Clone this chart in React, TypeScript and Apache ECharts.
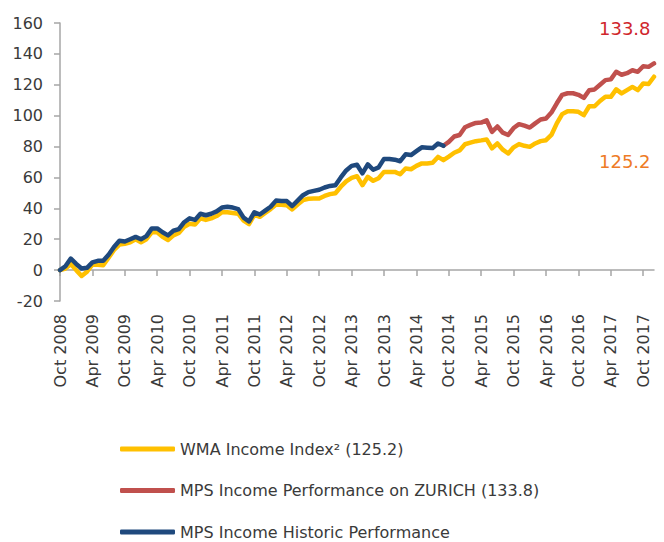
import React, { useEffect, useRef } from "react";
import * as echarts from "echarts";

const MONTHS = ["Jan", "Feb", "Mar", "Apr", "May", "Jun", "Jul", "Aug", "Sep", "Oct", "Nov", "Dec"];
// Monthly categories Oct 2008 .. Dec 2017
const categories: string[] = [];
for (let k = 0; k < 111; k++) {
  const m = (9 + k) % 12;
  const y = 2008 + Math.floor((9 + k) / 12);
  categories.push(`${MONTHS[m]} ${y}`);
}

const seriesNames = [
  "WMA Income Index² (125.2)",
  "MPS Income Performance on ZURICH (133.8)",
  "MPS Income Historic Performance",
];

const wmaIncome = [
  0, 1, 4, 0, -3.8, -1, 3.5, 3.5, 3.2, 8,
  13, 16.5, 17, 18, 20, 18, 20, 24.5, 24.5, 21.5,
  19.5, 22.5, 24, 28, 30, 29.5, 33.5, 32.5, 33.5, 35,
  37.5, 37.5, 37, 36.5, 32, 29.8, 35.8, 34.5, 37, 39.5,
  42.5, 42.3, 42, 39.3, 42.5, 45.3, 46.2, 46.4, 46.4, 48,
  49.2, 49.8, 54, 57.5, 59.7, 60.8, 55, 60.4, 57.8, 59.5,
  63.6, 63.6, 63.6, 62.1, 65.8, 65.3, 67.5, 69.1, 69.1, 69.5,
  73.3, 71.2, 73.5, 76, 77.5, 81.5, 82.5, 83.5, 84, 84.6,
  78.8, 82, 78, 75.5, 79.5, 81.6, 80.5, 79.8, 82, 83.5,
  84.1, 87.5, 95, 101, 102.9, 102.9, 102.5, 100.3, 106.1, 106.1,
  109.5, 112.2, 112.2, 117, 114.4, 116.5, 118.6, 116.5, 120.8, 120.5,
  125.2,
];

// MPS Income: historic (index 0..71) then on ZURICH (index 71..110)
const mpsIncome = [
  0, 2.5, 7.5, 4, 1, 1.5, 5, 6, 6, 10,
  15, 19, 18.5, 20, 21.5, 20, 22, 27, 27, 24.5,
  22.5, 25.5, 26.5, 31, 33.5, 32.5, 36.5, 35.5, 36.5, 38,
  40.5, 41, 40.5, 39.5, 34, 31.5, 37.5, 36, 38.5, 41,
  45, 44.8, 44.7, 41.5, 45, 48.5, 50.5, 51.3, 52, 53.5,
  54.5, 55, 60, 64.5, 67.5, 68.2, 62.6, 68.5, 65, 66.5,
  72, 72, 71.5, 70.5, 75, 74.5, 77, 79.5, 79.3, 79,
  82, 80.5, 83, 86.5, 87.5, 92.5, 94, 95.3, 95.5, 97,
  89.5, 93, 89, 87.5, 92, 94.5, 93.5, 92.3, 95, 97.5,
  98.2, 102, 108, 113.5, 114.5, 114.5, 113.5, 111.5, 116.5, 117,
  120, 123, 123.5, 128.4, 126.5, 127.5, 129.4, 128.4, 132, 131.6,
  133.8,
];
const zurichStart = 71;

const yTicks = { min: -20, max: 160, interval: 20 };
const endLabels = ["133.8", "125.2"];

const historic = mpsIncome.map((v, i) => (i <= zurichStart ? v : null));
const zurich = mpsIncome.map((v, i) => (i >= zurichStart ? v : null));

const FONT = "DejaVu Sans";
const AXIS_COLOR = "#a6a6a6";
const TEXT_COLOR = "#3a3a3a";

export default function App() {
  const ref = useRef<HTMLDivElement>(null);
  useEffect(() => {
    if (!ref.current) return;
    const chart = echarts.init(ref.current, undefined, { renderer: "svg" });
    const lineStyle = (color: string) => ({ color, width: 4.5, cap: "round", join: "round" });
    chart.setOption({
      animation: false,
      textStyle: { fontFamily: FONT },
      grid: { left: 60, right: 10, top: 23, bottom: 241, containLabel: false },
      legend: {
        orient: "vertical",
        left: 120,
        top: 441,
        height: 200,
        padding: 0,
        itemWidth: 55,
        itemHeight: 5,
        itemGap: 25.5,
        icon: "roundRect",
        textStyle: { fontFamily: FONT, fontSize: 16, color: TEXT_COLOR, lineHeight: 16 },
        data: seriesNames,
      },
      xAxis: [
        {
          type: "category",
          data: categories,
          boundaryGap: false,
          position: "bottom",
          axisLine: { show: false, onZero: false },
          axisTick: { show: false },
          axisLabel: {
            interval: 5,
            rotate: 90,
            margin: 13,
            fontSize: 16,
            color: TEXT_COLOR,
            fontFamily: FONT,
          },
          splitLine: { show: false },
        },
        {
          type: "category",
          data: categories,
          boundaryGap: false,
          position: "top",
          axisLine: { show: true, onZero: true, lineStyle: { color: AXIS_COLOR, width: 1.5 } },
          axisTick: { show: true, inside: true, interval: 5, length: 6, lineStyle: { color: AXIS_COLOR, width: 1.5 } },
          axisLabel: { show: false },
          splitLine: { show: false },
        },
      ],
      yAxis: {
        type: "value",
        min: yTicks.min,
        max: yTicks.max,
        interval: yTicks.interval,
        axisLine: { show: true, lineStyle: { color: AXIS_COLOR, width: 1.5 } },
        axisTick: { show: true, length: 6, lineStyle: { color: AXIS_COLOR, width: 1.5 } },
        axisLabel: { margin: 17, fontSize: 16, color: TEXT_COLOR, fontFamily: FONT },
        splitLine: { show: false },
      },
      series: [
        {
          name: seriesNames[0],
          type: "line",
          xAxisIndex: 0,
          data: wmaIncome,
          symbol: "none",
          color: "#FFC000",
          lineStyle: lineStyle("#FFC000"),
          z: 2,
        },
        {
          name: seriesNames[1],
          type: "line",
          xAxisIndex: 0,
          data: zurich,
          symbol: "none",
          color: "#C0504D",
          lineStyle: lineStyle("#C0504D"),
          z: 3,
        },
        {
          name: seriesNames[2],
          type: "line",
          xAxisIndex: 0,
          data: historic,
          symbol: "none",
          color: "#1F497D",
          lineStyle: lineStyle("#1F497D"),
          z: 4,
        },
      ],
      graphic: [
        {
          type: "text",
          left: 599,
          top: 19,
          style: { text: endLabels[0], fill: "#D0262C", font: `18px '${FONT}'` },
        },
        {
          type: "text",
          left: 599,
          top: 152,
          style: { text: endLabels[1], fill: "#EE7B26", font: `18px '${FONT}'` },
        },
      ],
    });
    return () => chart.dispose();
  }, []);
  return (
    <div
      ref={ref}
      style={{ position: "fixed", left: 0, top: 0, width: 664, height: 542, background: "#fff" }}
    />
  );
}
